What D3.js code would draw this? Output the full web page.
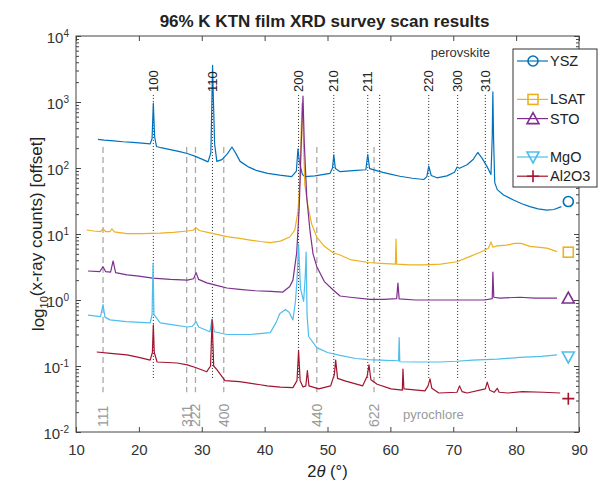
<!DOCTYPE html>
<html><head><meta charset="utf-8">
<script src="https://cdn.jsdelivr.net/npm/d3@7"></script>
<style>
body{margin:0;background:#fff;}
svg{display:block;font-family:"Liberation Sans",Arial,Helvetica,sans-serif;}
</style>
</head><body>
<svg id="c" width="601" height="483"></svg>
<script>
// ---------- data ----------
const xTicks = [10,20,30,40,50,60,70,80,90];
const yTickExps = [-2,-1,0,1,2,3,4];
const seriesNames = ["YSZ","LSAT","STO","MgO","Al2O3"];
const seriesColors = ["#0072BD","#EDB120","#7E2F8E","#4DBEEE","#A2142F"];
const seriesMarkers = ["circle","square","triangle","triangleDown","plus"];
const legendSlots = [0,2,3,5,6];

const ysz = [[13.5,272],[14.5,265],[16,258],[17.5,250],[19,245],[20.5,238],[21.8,232],[22.1,280],[22.3,960],[22.5,300],[22.8,212],[23.5,203],[25,190],[26.5,177],[27.7,166],[29,150],[30.2,134],[31,124],[31.45,170],[31.6,900],[31.72,3600],[31.85,1100],[32.05,230],[32.4,126],[33.2,134],[34.1,165],[34.8,208],[35.4,168],[36.1,126],[37.5,103],[38.8,91],[40.5,83],[42.4,78],[44.3,74],[45.05,90],[45.3,195],[45.55,120],[46,80],[46.4,74],[48,76],[50.4,83],[50.8,100],[51.0,158],[51.25,98],[52,88],[54,91],[56.1,94],[56.4,160],[56.7,98],[58.8,86],[60,81],[61.5,75],[63.5,70],[65.3,67],[65.8,74],[66.1,107],[66.5,77],[67.4,71],[69,76],[70.2,86],[70.6,103],[71,99],[72.2,112],[73.2,136],[73.9,172],[74.6,140],[75.4,104],[76.0,80],[76.2,300],[76.3,1420],[76.42,260],[76.6,60],[77.0,47],[78,39],[79.5,33],[81,28.5],[82.2,26],[83.5,24],[84.9,23],[86,23.5],[87.2,26]];
const lsat = [[11.7,11.5],[12.8,11.1],[13.9,10.9],[14.3,11.9],[14.7,10.9],[15.4,10.9],[15.7,12.0],[16.1,10.8],[18.1,10.1],[20.5,10.1],[23.4,10.3],[25.5,10.6],[27.7,11.1],[28.6,11.4],[29.1,12.4],[29.6,11.3],[31.3,10.4],[34,9.1],[36,8.6],[37.7,8.1],[39.3,7.7],[40.9,7.4],[42.5,7.8],[44,9.0],[44.8,11.5],[45.3,22],[45.6,60],[45.8,300],[45.95,950],[46.15,300],[46.4,55],[46.9,26],[47.5,14],[48.3,9.0],[49.5,6.5],[50.9,5.2],[52,4.8],[53.6,4.1],[56.5,3.7],[58.5,3.6],[60.8,3.5],[60.9,8.4],[61.0,3.5],[63,3.4],[65.3,3.4],[68,3.5],[70.6,3.8],[72.5,4.5],[74.3,5.3],[75.6,6.1],[76.0,7.6],[76.3,6.3],[77,6.6],[78.5,6.8],[79.8,7.2],[80.8,7.2],[82.2,6.5],[84.9,6.1],[86.5,5.4]];
const sto = [[11.9,2.75],[13.8,2.7],[14.3,3.2],[14.7,2.7],[15.5,2.65],[15.9,3.9],[16.3,2.6],[18.1,2.4],[20,2.3],[22.2,2.15],[25,2.05],[27.7,2.0],[28.7,2.1],[29.1,2.6],[29.5,2.05],[30.8,1.82],[32.5,1.65],[34,1.52],[36,1.45],[38.5,1.38],[41,1.35],[42.9,1.32],[44,1.6],[44.5,2.0],[45.1,5.2],[45.5,25],[45.8,200],[46.1,1230],[46.3,250],[46.7,36],[47.2,11.5],[47.7,5],[48.3,3.2],[49.5,1.9],[50.9,1.42],[52,1.15],[53.6,1.1],[56.8,1.02],[59,1.02],[61.0,1.05],[61.2,1.8],[61.4,1.04],[64,1.0],[67.9,1.0],[71,1.0],[75,1.0],[76.2,1.05],[76.3,2.65],[76.45,1.1],[77.4,1.07],[80.6,1.1],[83,1.07],[86.5,1.07]];
const mgo = [[11.9,0.59],[13.9,0.56],[14.3,0.85],[14.6,0.55],[15.4,0.50],[18,0.47],[21.8,0.45],[22.1,0.6],[22.25,3.6],[22.4,0.6],[23.4,0.45],[25.5,0.42],[27.7,0.39],[28.5,0.40],[29.1,0.47],[29.5,0.39],[31.3,0.33],[31.65,0.52],[32,0.33],[34,0.30],[37.7,0.30],[40.9,0.32],[41.8,0.45],[42.4,0.62],[43.3,0.72],[43.9,0.65],[44.5,0.50],[44.9,0.95],[45.15,2.0],[45.4,7.0],[45.7,1.5],[46.2,0.95],[46.45,2.2],[46.6,5.3],[46.75,0.6],[47,0.28],[48.3,0.19],[50,0.16],[52,0.145],[54.5,0.13],[56.5,0.125],[58.3,0.123],[61.3,0.12],[61.4,0.27],[61.5,0.116],[64,0.115],[67.9,0.115],[70.5,0.118],[73.1,0.123],[77,0.127],[80.6,0.135],[84,0.14],[86.5,0.147]];
const al2o3 = [[13.3,0.163],[15.5,0.155],[18.1,0.147],[20,0.135],[21.8,0.123],[22.15,0.16],[22.3,0.42],[22.45,0.16],[22.9,0.115],[26.1,0.111],[27.7,0.104],[29,0.095],[30.8,0.082],[31.4,0.1],[31.65,0.50],[31.9,0.1],[32.4,0.088],[33.7,0.06],[36,0.058],[39.3,0.052],[40.4,0.050],[42.5,0.048],[44.5,0.047],[45.15,0.06],[45.4,0.17],[45.65,0.06],[46.1,0.048],[46.55,0.05],[46.8,0.085],[47.05,0.05],[48.6,0.045],[50.5,0.05],[51.1,0.075],[51.3,0.123],[51.6,0.065],[52.9,0.059],[55.6,0.050],[56.3,0.07],[56.6,0.104],[56.9,0.062],[57.9,0.053],[60.1,0.045],[61.9,0.043],[62.0,0.09],[62.15,0.045],[65.5,0.042],[66.0,0.05],[66.3,0.064],[66.6,0.046],[67.7,0.039],[70.6,0.040],[71.0,0.05],[71.4,0.041],[72.2,0.039],[75.1,0.045],[75.4,0.057],[75.8,0.043],[76.5,0.040],[77.0,0.046],[77.3,0.040],[78.7,0.039],[81,0.041],[84.3,0.040],[87,0.039]];
const seriesData = [ysz, lsat, sto, mgo, al2o3];
const endMarkers = [[88.3,31],[88.3,5.3],[88.3,1.07],[88.3,0.137],[88.3,0.032]];

const perovskiteLabels = ["100","110","200","210","211","","220","300","310"];
const perovskitePos = [22.3,31.7,45.4,51.0,56.4,58.3,66.1,70.7,75.1];
const perovskiteRange = [1280, 0.062];
const pyrochloreLabels = ["111","311","222","400","440","622"];
const pyrochlorePos = [14.3,27.6,29.0,33.5,48.3,57.4];
const pyrochloreRange = [208, 0.04];

// ---------- layout ----------
const L = 76, R = 579, T = 36, B = 432;
const svg = d3.select("#c");
const x = d3.scaleLinear().domain([10,90]).range([L,R]);
const y = d3.scaleLog().domain([1e-2,1e4]).range([B,T]);
const axisCol = "#444", txtCol = "#333";

// title
svg.append("text").attr("x",(L+R)/2 - 3).attr("y",27).attr("text-anchor","middle")
  .attr("font-size","17px").attr("font-weight","bold").attr("fill","#222")
  .text("96% K KTN film XRD survey scan results");

// reference lines
const g = svg.append("g");
g.selectAll("line.pero").data(perovskitePos).enter().append("line")
  .attr("x1",d=>x(d)).attr("x2",d=>x(d))
  .attr("y1",y(perovskiteRange[0])).attr("y2",y(perovskiteRange[1]))
  .attr("stroke","#222").attr("stroke-width",1).attr("stroke-dasharray","1,2");
g.selectAll("line.pyro").data(pyrochlorePos).enter().append("line")
  .attr("x1",d=>x(d)).attr("x2",d=>x(d))
  .attr("y1",y(pyrochloreRange[0])).attr("y2",y(pyrochloreRange[1]))
  .attr("stroke","#aaa").attr("stroke-width",1.3).attr("stroke-dasharray","6,4");

// series
const line = d3.line().x(d=>x(d[0])).y(d=>y(d[1]));
seriesData.forEach((s,i)=>{
  svg.append("path").datum(s).attr("d",line).attr("fill","none")
    .attr("stroke",seriesColors[i]).attr("stroke-width",1.2).attr("stroke-linejoin","round");
});

// markers
function drawMarker(sel, type, cx, cy, col){
  const s = 5;
  if(type==="circle") sel.append("circle").attr("cx",cx).attr("cy",cy).attr("r",s).attr("fill","none").attr("stroke",col).attr("stroke-width",1.6);
  else if(type==="square") sel.append("rect").attr("x",cx-s).attr("y",cy-s).attr("width",2*s).attr("height",2*s).attr("fill","none").attr("stroke",col).attr("stroke-width",1.6);
  else if(type==="triangle") sel.append("path").attr("d",`M${cx},${cy-s-1}L${cx+s+1},${cy+s}L${cx-s-1},${cy+s}Z`).attr("fill","none").attr("stroke",col).attr("stroke-width",1.6);
  else if(type==="triangleDown") sel.append("path").attr("d",`M${cx},${cy+s+1}L${cx+s+1},${cy-s}L${cx-s-1},${cy-s}Z`).attr("fill","none").attr("stroke",col).attr("stroke-width",1.6);
  else if(type==="plus") sel.append("path").attr("d",`M${cx-s-1},${cy}H${cx+s+1}M${cx},${cy-s-1}V${cy+s+1}`).attr("fill","none").attr("stroke",col).attr("stroke-width",1.6);
}
endMarkers.forEach((m,i)=>drawMarker(svg, seriesMarkers[i], x(m[0]), y(m[1]), seriesColors[i]));

// labels for reference lines
svg.selectAll("text.pero").data(perovskiteLabels.map((t,i)=>({t,p:perovskitePos[i]})).filter(d=>d.t)).enter()
  .append("text").attr("transform",d=>`translate(${x(d.p)+4.5},${y(perovskiteRange[0])-3}) rotate(-90)`)
  .attr("font-size","13px").attr("fill","#222").text(d=>d.t);
svg.selectAll("text.pyro").data(pyrochloreLabels.map((t,i)=>({t,p:pyrochlorePos[i]}))).enter()
  .append("text").attr("transform",d=>`translate(${x(d.p)+5},${B-5}) rotate(-90)`)
  .attr("font-size","14px").attr("fill","#999").text(d=>d.t);
svg.append("text").attr("x",490).attr("y",57).attr("text-anchor","end").attr("font-size","13px").attr("fill","#333").text("perovskite");
svg.append("text").attr("x",403).attr("y",419).attr("font-size","13px").attr("fill","#999").text("pyrochlore");

// axes
const ax = svg.append("g");
ax.append("g").attr("transform",`translate(0,${B})`)
  .call(d3.axisBottom(x).tickValues(xTicks).tickSizeInner(-5).tickSizeOuter(0).tickPadding(12).tickFormat(d3.format("d")))
  .call(s=>{s.select(".domain").remove(); s.selectAll("line").attr("stroke",axisCol); s.selectAll("text").attr("font-size","15px").attr("fill",txtCol).attr("font-family","inherit");});
ax.append("g").attr("transform",`translate(0,${T})`)
  .call(d3.axisTop(x).tickValues(xTicks).tickSizeInner(-5).tickSizeOuter(0).tickFormat(""))
  .call(s=>{s.select(".domain").remove(); s.selectAll("line").attr("stroke",axisCol);});

const minorVals = [];
yTickExps.slice(0,-1).forEach(e=>{ for(let k=2;k<=9;k++) minorVals.push(k*Math.pow(10,e)); });
const majorVals = yTickExps.map(e=>Math.pow(10,e));
[[L,d3.axisLeft,1],[R,d3.axisRight,0]].forEach(([px,fn,lab])=>{
  ax.append("g").attr("transform",`translate(${px},0)`)
    .call(fn(y).tickValues(minorVals).tickSizeInner(-3).tickSizeOuter(0).tickFormat(""))
    .call(s=>{s.select(".domain").remove(); s.selectAll("line").attr("stroke",axisCol);});
  const gm = ax.append("g").attr("transform",`translate(${px},0)`)
    .call(fn(y).tickValues(majorVals).tickSizeInner(-5).tickSizeOuter(0).tickPadding(7).tickFormat(""))
    .call(s=>{s.select(".domain").remove(); s.selectAll("line").attr("stroke",axisCol);});
  if(lab){
    gm.selectAll(".tick text").each(function(d){
      const t = d3.select(this).attr("fill",txtCol).attr("font-size","15px").attr("font-family","inherit").attr("dy","0.4em");
      t.append("tspan").text("10");
      t.append("tspan").attr("dy","-0.55em").attr("font-size","10px").text(Math.round(Math.log10(d)));
    });
  }
});
// frame
ax.append("rect").attr("x",L).attr("y",T).attr("width",R-L).attr("height",B-T)
  .attr("fill","none").attr("stroke",axisCol).attr("stroke-width",1);

// axis labels
const xl = svg.append("text").attr("x",(L+R)/2).attr("y",477).attr("text-anchor","middle").attr("font-size","16.5px").attr("fill","#222");
xl.append("tspan").text("2");
xl.append("tspan").attr("font-style","italic").text("θ");
xl.append("tspan").text(" (°)");
const yl = svg.append("text").attr("transform",`translate(44,${(T+B)/2}) rotate(-90)`).attr("text-anchor","middle").attr("font-size","17px").attr("fill","#222");
yl.append("tspan").text("log");
yl.append("tspan").attr("font-size","11px").attr("dy","0.35em").text("10");
yl.append("tspan").attr("dy","-0.35em").text("(x-ray counts) [offset]");

// legend
const lg = svg.append("g");
lg.append("rect").attr("x",513).attr("y",49).attr("width",84).attr("height",138)
  .attr("fill","#fff").attr("stroke","#333").attr("stroke-width",1);
seriesNames.forEach((n,i)=>{
  const ly = 61 + legendSlots[i]*19.2;
  lg.append("line").attr("x1",517).attr("x2",548).attr("y1",ly).attr("y2",ly).attr("stroke",seriesColors[i]).attr("stroke-width",1.2);
  drawMarker(lg, seriesMarkers[i], 533, ly, seriesColors[i]);
  lg.append("text").attr("x",550).attr("y",ly+5).attr("font-size","14.5px").attr("fill","#222").text(n);
});
</script>
</body></html>
